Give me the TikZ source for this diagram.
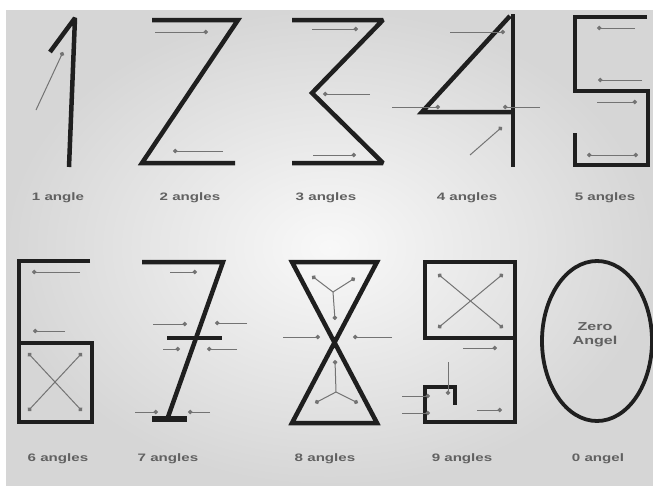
\documentclass[tikz,border=0pt]{standalone}
\usepackage{fontspec}
\setmainfont{Liberation Sans}
\usetikzlibrary{arrows.meta}
\begin{document}
\begin{tikzpicture}[x=1pt,y=-1pt,
 dig/.style={line width=4.5pt, draw=black!88, line join=miter, miter limit=2.5, line cap=butt},
 ar/.style={line width=1pt, draw=black!55, -{Circle[length=4.5pt]}},
 dar/.style={line width=1pt, draw=black!55, {Circle[length=4.5pt]}-{Circle[length=4.5pt]}},
 lab/.style={font=\bfseries\fontsize{10.8}{13}\selectfont, text=black!62, inner sep=0pt},
]
\useasboundingbox (0,0) rectangle (653,485);
\fill[white] (0,0) rectangle (653,485);
\shade[inner color=gray!5, outer color=gray!32] (6,10) rectangle (653,485);

% ---------- 1 ----------
\draw[dig] (50,52) -- (75,18) -- (69,167);
\draw[ar] (36,110) -- (63,52);
\node[lab] (l1) at (58,198) {\scalebox{1.4}[1]{1 angle}};

% ---------- 2 ----------
\draw[dig] (152,20) -- (238,20) -- (142,163) -- (235,163);
\draw[ar] (155,32) -- (208,32);
\draw[ar] (223,151) -- (173,151);
\node[lab] (l2) at (190,198) {\scalebox{1.4}[1]{2 angles}};

% ---------- 3 ----------
\draw[dig] (292,20) -- (383,20) -- (312,93) -- (383,163) -- (292,163);
\draw[ar] (312,29) -- (358,29);
\draw[ar] (370,94) -- (323,94);
\draw[ar] (313,155) -- (356,155);
\node[lab] (l3) at (326,198) {\scalebox{1.4}[1]{3 angles}};

% ---------- 4 ----------
\draw[dig] (510,16) -- (422,112) -- (513,112);
\draw[dig] (513,14) -- (513,167);
\draw[ar] (450,32) -- (505,32);
\draw[ar] (392,107) -- (440,107);
\draw[ar] (540,107) -- (503,107);
\draw[ar] (470,155) -- (502,127);
\node[lab] (l4) at (467,198) {\scalebox{1.4}[1]{4 angles}};

% ---------- 5 ----------
\draw[dig] (647,17) -- (575,17) -- (575,91) -- (648,91) -- (648,165) -- (575,165) -- (575,133);
\draw[ar] (635,28) -- (597,28);
\draw[ar] (642,80) -- (598,80);
\draw[ar] (597,102) -- (637,102);
\draw[dar] (587,155) -- (638,155);
\node[lab] (l5) at (605,198) {\scalebox{1.4}[1]{5 angles}};

% ---------- 6 ----------
\draw[dig] (90,261) -- (19,261) -- (19,422) -- (92,422) -- (92,343) -- (19,343);
\draw[ar] (80,272) -- (32,272);
\draw[ar] (65,331) -- (33,331);
\draw[dar] (28,353) -- (82,411);
\draw[dar] (82,353) -- (28,411);
\node[lab] (l6) at (58,459) {\scalebox{1.4}[1]{6 angles}};

% ---------- 7 ----------
\draw[dig] (142,262) -- (223,262) -- (168,417);
\draw[dig] (167,338) -- (222,338);
\draw[dig, line width=5.5pt] (152,419) -- (187,419);
\draw[ar] (170,272) -- (197,272);
\draw[ar] (153,324) -- (187,324);
\draw[ar] (247,323) -- (215,323);
\draw[ar] (163,349) -- (180,349);
\draw[ar] (237,349) -- (207,349);
\draw[ar] (135,412) -- (158,412);
\draw[ar] (210,412) -- (188,412);
\node[lab] (l7) at (168,459) {\scalebox{1.4}[1]{7 angles}};

% ---------- 8 ----------
\draw[dig] (292,262) -- (377,262) -- (292,423) -- (377,423) -- cycle;
\draw[ar] (283,337) -- (320,337);
\draw[ar] (392,337) -- (353,337);
\draw[ar] (333,292) -- (312,276);
\draw[ar] (333,292) -- (355,278);
\draw[ar] (333,292) -- (335,320);
\draw[ar] (336,392) -- (315,403);
\draw[ar] (336,392) -- (358,403);
\draw[ar] (336,392) -- (335,360);
\node[lab] (l8) at (325,459) {\scalebox{1.4}[1]{8 angles}};

% ---------- 9 ----------
\draw[dig] (515,338) -- (425,338) -- (425,262) -- (515,262) -- (515,422) -- (425,422) -- (425,387) -- (455,387) -- (455,405);
\draw[dar] (438,274) -- (503,328);
\draw[dar] (503,274) -- (438,328);
\draw[ar] (463,348) -- (497,348);
\draw[ar] (448,362) -- (448,395);
\draw[ar] (402,396) -- (430,396);
\draw[ar] (402,413) -- (430,413);
\draw[ar] (477,410) -- (502,410);
\node[lab] (l9) at (462,459) {\scalebox{1.4}[1]{9 angles}};

% ---------- 0 ----------
\draw[line width=3.8pt, draw=black!88] (597,341) ellipse [x radius=55, y radius=80];
\node[lab, align=center, font=\bfseries\fontsize{11.5}{14}\selectfont] (z0) at (595,335) {\scalebox{1.4}[1]{Zero}\\\scalebox{1.4}[1]{Angel}};
\node[lab] (l0) at (598,459) {\scalebox{1.4}[1]{0 angel}};
\end{tikzpicture}
\end{document}
